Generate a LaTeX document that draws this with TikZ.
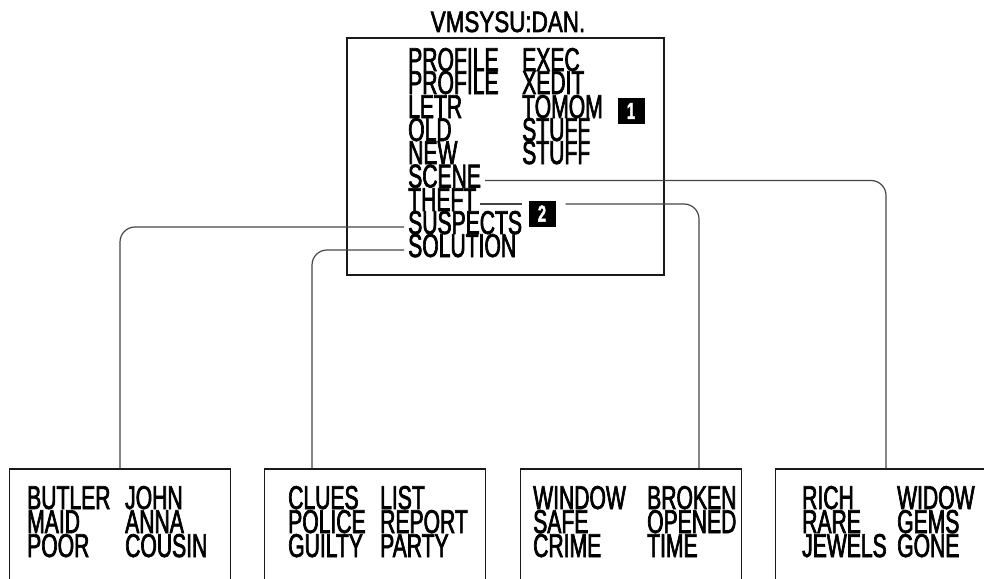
\documentclass[tikz,border=0pt]{standalone}
\usepackage{fontspec}
\setmainfont{Liberation Sans}[FakeStretch=0.64,FakeBold=2]
\newfontfamily\titlefont{Liberation Sans}[FakeStretch=0.76,FakeBold=2]
\definecolor{ink}{HTML}{1A1A1A}
\definecolor{wire}{HTML}{454545}

\begin{document}
\begin{tikzpicture}[x=1pt,y=-1pt,
 entry/.style={anchor=base west,inner sep=0pt,text height=22pt,text depth=8pt,
   font=\fontsize{33}{30}\selectfont},
 filebox/.style={draw=ink,line width=1.7pt,minimum width=221pt,minimum height=200pt,
   anchor=north,inner sep=0pt},
 badge/.style={fill=black,text=white,minimum width=27pt,minimum height=26pt,
   inner sep=0pt,font=\bfseries\fontsize{23}{23}\selectfont},
 link/.style={draw=wire,line width=1.2pt,rounded corners=15pt,shorten <=4pt}
]
\useasboundingbox (0,0) rectangle (984,578);
\clip (0,0) rectangle (984,578);
\node[anchor=base,inner sep=0pt,font=\titlefont\fontsize{29.5}{29}\selectfont] (title) at (508,32) {VMSYSU:DAN.};
\node[draw=ink,line width=1.7pt,minimum width=317pt,minimum height=237pt,inner sep=0pt] (dir) at (505.5,156.5) {};
\node[entry] (profexec) at (408,71) {\makebox[114pt][l]{PROFILE}EXEC};
\node[entry] (profxedit) at (408,94) {\makebox[114pt][l]{PROFILE}XEDIT};
\node[entry] (letr) at (408,118) {\makebox[114pt][l]{LETR}TOMOM};
\node[entry] (old) at (408,141) {\makebox[114pt][l]{OLD}STUFF};
\node[entry] (new) at (408,164) {\makebox[114pt][l]{NEW}STUFF};
\node[entry] (scene) at (408,187.5) {SCENE};
\node[entry] (theft) at (408,211) {THEFT};
\node[entry] (suspects) at (408,234) {SUSPECTS};
\node[entry] (solution) at (408,257) {SOLUTION};
\node[badge] (badgeone) at (631,111) {1};
\node[badge] (badgetwo) at (542,213.5) {2};

\node[filebox] (suspectsfile) at (120,468) {};
\node[filebox] (solutionfile) at (375,468) {};
\node[filebox] (theftfile) at (631,468) {};
\node[filebox] (scenefile) at (886,468) {};
\node[entry] (butler) at (27,509) {\makebox[98pt][l]{BUTLER}JOHN};
\node[entry] (maid) at (27,533) {\makebox[98pt][l]{MAID}ANNA};
\node[entry] (poor) at (27,557) {\makebox[98pt][l]{POOR}COUSIN};
\node[entry] (clues) at (288,509) {\makebox[92pt][l]{CLUES}LIST};
\node[entry] (police) at (288,533) {\makebox[92pt][l]{POLICE}REPORT};
\node[entry] (guilty) at (288,557) {\makebox[92pt][l]{GUILTY}PARTY};
\node[entry] (window) at (533,509) {\makebox[114pt][l]{WINDOW}BROKEN};
\node[entry] (safe) at (533,533) {\makebox[114pt][l]{SAFE}OPENED};
\node[entry] (crime) at (533,557) {\makebox[114pt][l]{CRIME}TIME};
\node[entry] (rich) at (802,509) {\makebox[95pt][l]{RICH}WIDOW};
\node[entry] (rare) at (802,533) {\makebox[95pt][l]{RARE}GEMS};
\node[entry] (jewels) at (802,557) {\makebox[95pt][l]{JEWELS}GONE};

\draw[link] (scene.east) -| (scenefile.north);
\draw[link,shorten >=6pt] (theft.east) -- (theft.east -| badgetwo.west);
\draw[link,shorten <=10pt] (theft.east -| badgetwo.east) -| ([xshift=68pt]theftfile.north);
\draw[link] (suspects.west) -| (suspectsfile.north);
\draw[link] (solution.west) -| ([xshift=-63pt]solutionfile.north);
\end{tikzpicture}
\end{document}
